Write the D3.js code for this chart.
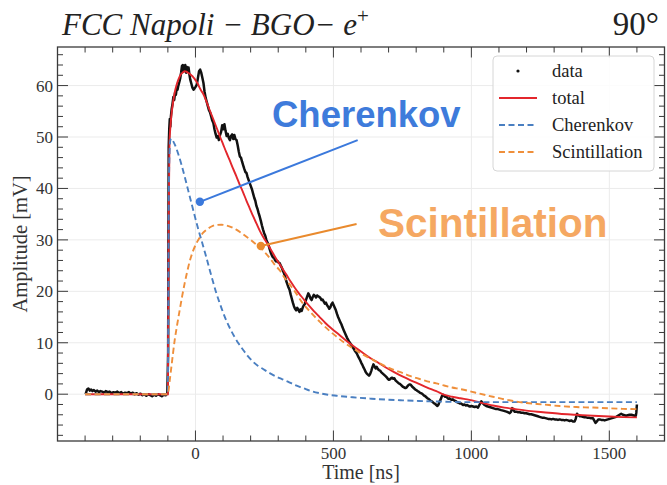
<!DOCTYPE html>
<html>
<head>
<meta charset="utf-8">
<script src="https://cdn.jsdelivr.net/npm/d3@7"></script>
<style>
  html, body { margin: 0; padding: 0; background: #fff; }
  svg { display: block; }
</style>
</head>
<body>
<svg id="chart" width="667" height="485"></svg>
<script>
// ---- Measured waveform (time in ns, amplitude in mV) ----
const dataTime = [
  -398,-393,-388,-383,-378,-373,-368,-362,-356,-350,-344,-338,-331,-325,-318,-311,-304,-297,-290,-283,
  -276,-269,-262,-255,-248,-241,-234,-227,-220,-213,-206,-199,-192,-185,-178,-171,-164,-157,-150,-143,
  -136,-129,-122,-115,-108,-102,-99,-98,-97,-95,-93,-91,-89,-86,-83,-80,-77,-74,-71,-68,-65,-62,-58,
  -55,-52,-49,-46,-43,-40,-37,-34,-31,-28,-25,-22,-19,-15,-11,-7,-3,1,5,9,13,17,21,25,29,33,37,41,45,
  49,53,57,61,65,69,73,77,81,85,89,93,97,101,105,109,113,117,121,125,129,133,137,141,145,149,153,157,
  161,165,169,173,177,181,185,189,193,197,201,205,209,213,217,221,225,229,233,237,241,245,249,253,257,
  261,265,269,273,277,281,285,289,293,297,301,305,309,313,317,321,325,329,333,337,341,345,349,353,357,
  361,365,369,373,377,381,385,389,393,397,401,405,409,413,417,421,425,429,433,437,441,445,449,453,457,
  461,465,469,473,477,481,485,489,493,497,501,505,509,513,517,521,525,529,533,537,541,545,549,553,557,
  561,565,569,573,577,581,585,589,593,597,601,605,609,613,617,621,625,629,633,637,641,645,649,653,657,
  661,665,669,673,677,681,685,689,693,697,701,705,709,713,717,721,725,729,733,737,741,745,749,753,757,
  761,765,769,773,777,781,785,789,793,797,801,805,809,813,817,821,825,829,833,837,841,845,849,853,857,
  861,865,869,873,877,881,885,889,893,897,901,905,909,913,917,921,925,929,933,937,941,945,949,953,957,
  961,965,970,975,980,985,990,995,1000,1006,1012,1018,1024,1030,1036,1042,1048,1054,1060,1066,1072,
  1078,1084,1090,1096,1102,1108,1115,1121,1127,1133,1139,1144,1148,1152,1157,1163,1169,1175,1181,1187,
  1193,1199,1205,1211,1217,1223,1229,1235,1241,1247,1253,1259,1265,1272,1278,1284,1290,1296,1302,1308,
  1314,1320,1326,1332,1338,1344,1350,1356,1362,1368,1374,1378,1383,1388,1393,1398,1404,1410,1416,1422,
  1428,1434,1441,1445,1450,1455,1460,1465,1471,1477,1483,1489,1495,1501,1507,1513,1519,1525,1531,1537,
  1543,1549,1555,1561,1567,1573,1580,1586,1592,1596,1598,1600
];
const dataAmp = [
  0.0,0.9,1.1,0.7,0.9,0.6,0.8,0.5,0.7,0.4,0.6,0.5,0.3,0.6,0.4,0.5,0.2,0.4,0.3,0.5,
  0.2,0.4,0.1,0.3,0.2,0.4,0.1,0.3,0.0,0.2,-0.1,0.1,-0.2,0.0,-0.3,0.0,-0.2,-0.4,-0.1,-0.3,
  0.0,-0.2,-0.4,-0.1,-0.2,0.1,8,30,48,51.5,53.5,52,54,55.5,56.5,57.8,57.2,58.6,58.2,59.5,59.2,60,60.8,
  61.5,62.5,63.8,64,62.8,63.5,64,62.5,63.6,62.8,63.5,62.2,61.2,60.4,59.6,59.2,59.5,59.8,60.2,61.5,62.8,63.1,62.5,61.5,60.5,58.8,57.6,56.8,56,
  55.2,54.8,54,53.2,52.7,51.5,50.6,49.9,50.2,49.4,50.4,51,52.3,51.5,52.5,51.2,50.2,50.6,49.8,49.4,50.2,50.5,49.6,50.4,49.6,49.4,48.4,47.2,
  46.2,46,45.2,44.5,43.8,43.2,43,42.2,41.6,41,40.4,39.8,39,38.2,37.6,36.6,36,35.2,34.5,33.7,32.8,32,31.3,30.8,30,
  29.5,29,28.2,27.5,27,26.6,26.5,26,25.8,25.9,25.6,25.5,25,24.6,24,23.5,22.8,22,21.4,20.8,20.3,19.4,18.6,17.8,17.1,
  16.6,16.3,16.8,16.4,16,16.5,16.2,16.9,17.3,17.6,18.4,19,19.6,19.2,18.6,18.3,18.9,19.3,19.1,18.8,19.2,19,18.9,18.7,18.3,
  18.4,18,17.6,17.8,17.3,17,16.6,16.9,17.5,17.8,17.3,16.8,16.3,15.6,15,14.5,14,13.6,13,12.5,12,11.5,11,10.6,10.2,
  9.9,9.6,9.2,8.9,8.5,8.2,7.9,7.4,7,6.6,6.1,5.7,5.2,4.8,4.3,4,3.8,3.6,3.9,4.5,5.2,5.8,5.4,5.0,5.3,
  4.9,4.7,4.6,4.3,4.1,3.9,3.7,3.5,3.3,3.0,2.8,2.9,3.1,3.2,3.0,3.1,2.7,2.5,2.3,2.1,2.0,1.8,1.6,1.4,1.3,
  1.2,1.3,1.6,1.8,1.9,1.8,1.5,1.3,1.1,0.9,0.8,0.6,0.5,0.3,0.2,0.1,-0.1,-0.3,-0.4,-0.6,-0.8,-0.9,-1.1,-1.3,-1.4,
  -1.6,-1.8,-1.9,-2.1,-2.3,-2.0,-1.4,-1.0,-0.4,-0.1,-0.3,-0.5,-0.4,-0.7,-0.9,-0.8,-1.0,-1.1,-1.0,-1.2,-1.3,-1.4,-1.6,-1.6,-1.8,
  -1.8,-1.9,-2.1,-2.0,-2.2,-2.1,-2.3,-2.4,-2.3,-2.4,-2.5,-2.4,-2.6,-2.0,-1.4,-1.8,-2.1,-2.3,-2.4,-2.5,-2.6,
  -2.7,-2.8,-2.9,-2.9,-3.0,-3.1,-3.2,-3.3,-3.4,-3.5,-3.7,-3.4,-2.7,-3.0,-3.4,-3.4,-3.5,-3.5,-3.6,-3.6,
  -3.7,-3.7,-3.8,-3.9,-3.9,-4.0,-4.1,-4.2,-4.3,-4.4,-4.5,-4.6,-4.6,-4.7,-4.8,-4.8,-4.9,-4.8,-4.9,-4.9,
  -5.0,-4.9,-5.0,-5.0,-5.1,-5.0,-5.1,-5.2,-5.1,-5.3,-5.3,-4.8,-3.8,-4.1,-4.3,-4.3,-4.4,-4.5,-4.5,-4.6,
  -4.6,-4.7,-4.7,-5.1,-5.6,-5.3,-4.9,-4.9,-5.0,-5.0,-5.1,-5.0,-4.9,-4.8,-4.7,-4.6,-4.5,-4.4,-4.2,-4.0,
  -3.8,-4.0,-4.1,-4.2,-4.1,-4.0,-4.0,-4.1,-4.2,-4.2,-3.5,-2.0
];

// ---- Fit: total ----
const totalTime = [-400,-100,-97,-94,-91,-86,-81,-75,-69,-63,-57,-51,-45,-39,-33,-27,-21,-15,-9,-3,3,9,15,21,27,33,42,51,63,76,88,100,112,124,136,148,160,173,185,197,209,221,233,245,257,269,281,293,305,318,330,345,360,375,390,410,430,450,470,490,511,540,571,600,632,660,690,720,752,780,810,840,873,900,930,960,993,1030,1078,1120,1160,1199,1260,1320,1380,1441,1500,1550,1600];
const totalAmp  = [0,0,35,49,51.8,54.8,56.8,58.7,60,61,61.8,62.3,62.6,62.8,62.7,62.5,62.3,62,61.7,61.3,60.8,60.3,59.6,59,58.5,57.8,56.6,55.3,53.7,51.9,50.2,48.6,47,45.5,43.9,42.4,40.8,39.2,37.6,36.1,34.6,33.2,31.8,30.6,29.6,28.5,27.4,26.3,25.3,24.2,23.2,21.9,20.7,19.6,18.6,17.3,16.1,15,13.9,12.9,12,10.7,9.4,8.3,7.1,6.2,5.2,4.3,3.4,2.7,2.0,1.3,0.6,-0.1,-0.5,-0.8,-1.1,-1.6,-2.2,-2.6,-2.9,-3.2,-3.5,-3.8,-4.0,-4.2,-4.35,-4.45,-4.5];

// ---- Fit: Cherenkov component ----
const cherTime = [-400,-100,-99,-97,-94,-91,-87,-80,-70,-60,-50,-40,-30,-20,-10,0,10,22,31,40,52,64,76,88,100,112,127,142,157,173,190,209,227,245,269,293,315,335,360,390,420,450,480,511,570,632,690,752,810,873,930,993,1100,1300,1600];
const cherAmp  = [0,0,10,35,47,49.4,49.7,49.1,47.9,46.3,44.5,42.5,40.4,38.3,36.2,34.1,32.1,29.9,28.2,26.5,24.1,21.8,19.6,17.7,15.9,14.3,12.6,11.1,9.8,8.6,7.4,6.3,5.5,4.9,4.1,3.4,2.9,2.45,1.8,1.2,0.6,0.2,-0.1,-0.3,-0.6,-0.85,-1.05,-1.2,-1.32,-1.42,-1.5,-1.55,-1.55,-1.55,-1.55];

// ---- Fit: scintillation component ----
const scintTime = [-400,-100,-99,-93,-87,-81,-75,-66,-57,-48,-39,-30,-21,-9,4,16,28,43,58,76,94,112,130,148,167,185,203,218,233,251,269,287,305,325,342,360,390,420,450,480,511,540,571,600,632,660,690,720,752,780,810,840,873,900,930,960,993,1030,1078,1120,1160,1199,1260,1320,1380,1441,1500,1550,1600];
const scintAmp  = [0,0,0.2,2.8,5.4,8.1,10.6,13.6,16.4,19.1,21.6,23.8,25.8,27.8,29.4,30.5,31.4,32.1,32.6,32.9,32.95,32.8,32.5,32,31.3,30.6,29.9,29.2,28.6,27.6,26.5,25.2,24.1,22.5,21.3,20,17.6,15.8,14.1,12.6,11.2,10,8.9,7.9,7,6.2,5.4,4.7,4.1,3.5,3.0,2.5,2.1,1.7,1.3,1.0,0.6,0.1,-0.5,-1.0,-1.4,-1.7,-2.0,-2.3,-2.5,-2.6,-2.75,-2.85,-2.9];

// ---- Axes ----
const xDomain = [-500, 1700];
const yDomain = [-9.1, 67.5];
const xMajorTicks = [0, 500, 1000, 1500];
const yMajorTicks = [0, 10, 20, 30, 40, 50, 60];

// ---- Labels ----
const titleText = "FCC Napoli \u2212 BGO\u2212 e";
const angleText = "90\u00B0";
const xLabel = "Time [ns]";
const yLabel = "Amplitude [mV]";
const legendLabels = ["data", "total", "Cherenkov", "Scintillation"];

// Callouts anchored in data coordinates: [dot point, line end]
const cherCallout  = { text: "Cherenkov",     dot: [16, 37.4],  end: [588, 49.4] };
const scintCallout = { text: "Scintillation", dot: [237, 28.8], end: [584, 33.1] };

const colors = {
  data: "#111111",
  total: "#e3262c",
  cher: "#4a7fc1",
  scint: "#ef8f3b",
  cherText: "#3e7bdb",
  scintText: "#f5a862",
  cherLine: "#3b79dc",
  scintLine: "#e98a2d"
};

const svg = d3.select("#chart");
const plot = { left: 57.5, right: 664.5, top: 47, bottom: 441 };

const x = d3.scaleLinear().domain(xDomain).range([plot.left, plot.right]);
const y = d3.scaleLinear().domain(yDomain).range([plot.bottom, plot.top]);

// grid
const grid = svg.append("g");
grid.selectAll("line.gx").data(xMajorTicks).join("line")
  .attr("x1", d => x(d)).attr("x2", d => x(d))
  .attr("y1", plot.top).attr("y2", plot.bottom)
  .attr("stroke", "#ebebeb").attr("stroke-width", 1);
grid.selectAll("line.gy").data(yMajorTicks).join("line")
  .attr("x1", plot.left).attr("x2", plot.right)
  .attr("y1", d => y(d)).attr("y2", d => y(d))
  .attr("stroke", "#ebebeb").attr("stroke-width", 1);

// clip for curves
svg.append("clipPath").attr("id", "clip").append("rect")
  .attr("x", plot.left).attr("y", plot.top)
  .attr("width", plot.right - plot.left).attr("height", plot.bottom - plot.top);

const curves = svg.append("g").attr("clip-path", "url(#clip)");
const line = d3.line().x(d => x(d[0])).y(d => y(d[1]));
const smooth = d3.line().x(d => x(d[0])).y(d => y(d[1])).curve(d3.curveMonotoneX);

const zip = (a, b) => a.map((v, i) => [v, b[i]]);

curves.append("path").datum(zip(dataTime, dataAmp))
  .attr("d", line).attr("fill", "none")
  .attr("stroke", colors.data).attr("stroke-width", 2.5).attr("stroke-linejoin", "round");

curves.append("path").datum(zip(totalTime, totalAmp))
  .attr("d", smooth).attr("fill", "none")
  .attr("stroke", colors.total).attr("stroke-width", 1.9);

curves.append("path").datum(zip(cherTime, cherAmp))
  .attr("d", smooth).attr("fill", "none")
  .attr("stroke", colors.cher).attr("stroke-width", 1.9).attr("stroke-dasharray", "6,3.5");

curves.append("path").datum(zip(scintTime, scintAmp))
  .attr("d", smooth).attr("fill", "none")
  .attr("stroke", colors.scint).attr("stroke-width", 1.9).attr("stroke-dasharray", "6,3.5");

// frame and inward ticks on all four sides
const axisColor = "#3a3a3a";
const majorLen = 10.5, minorLen = 5.5;
const xMinor = d3.range(-500, 1701, 100).filter(v => !xMajorTicks.includes(v));
const yMinor = d3.range(-8, 67, 2).filter(v => !yMajorTicks.includes(v));

const ticks = svg.append("g").attr("stroke", axisColor).attr("stroke-width", 1);
function xTicks(vals, len) {
  vals.forEach(v => {
    ticks.append("line").attr("x1", x(v)).attr("x2", x(v)).attr("y1", plot.bottom).attr("y2", plot.bottom - len);
    ticks.append("line").attr("x1", x(v)).attr("x2", x(v)).attr("y1", plot.top).attr("y2", plot.top + len);
  });
}
function yTicks(vals, len) {
  vals.forEach(v => {
    ticks.append("line").attr("y1", y(v)).attr("y2", y(v)).attr("x1", plot.left).attr("x2", plot.left + len);
    ticks.append("line").attr("y1", y(v)).attr("y2", y(v)).attr("x1", plot.right).attr("x2", plot.right - len);
  });
}
xTicks(xMajorTicks, majorLen); xTicks(xMinor, minorLen);
yTicks(yMajorTicks, majorLen); yTicks(yMinor, minorLen);

svg.append("rect")
  .attr("x", plot.left).attr("y", plot.top)
  .attr("width", plot.right - plot.left).attr("height", plot.bottom - plot.top)
  .attr("fill", "none").attr("stroke", axisColor).attr("stroke-width", 1.3);

// tick labels
const labelFont = "Liberation Serif, DejaVu Serif, serif";
svg.append("g").selectAll("text").data(xMajorTicks).join("text")
  .attr("x", d => x(d)).attr("y", 458.5)
  .attr("text-anchor", "middle")
  .attr("font-family", labelFont).attr("font-size", 17).attr("fill", "#333")
  .text(d => d);
svg.append("g").selectAll("text").data(yMajorTicks).join("text")
  .attr("x", 53).attr("y", d => y(d) + 6)
  .attr("text-anchor", "end")
  .attr("font-family", labelFont).attr("font-size", 17).attr("fill", "#333")
  .text(d => d);

// axis titles
svg.append("text")
  .attr("x", (plot.left + plot.right) / 2).attr("y", 479)
  .attr("text-anchor", "middle")
  .attr("font-family", labelFont).attr("font-size", 20).attr("fill", "#333")
  .text(xLabel);
svg.append("text")
  .attr("transform", `translate(27,${(plot.top + plot.bottom) / 2}) rotate(-90)`)
  .attr("text-anchor", "middle")
  .attr("font-family", labelFont).attr("font-size", 20.5).attr("fill", "#333")
  .text(yLabel);

// title
const title = svg.append("text")
  .attr("x", 62).attr("y", 35)
  .attr("font-family", labelFont).attr("font-style", "italic")
  .attr("font-size", 31).attr("fill", "#222")
  .text(titleText);
title.append("tspan").attr("dy", -12).attr("font-size", 21).attr("font-style", "normal").text("+");

svg.append("text")
  .attr("x", 659).attr("y", 35)
  .attr("text-anchor", "end")
  .attr("font-family", labelFont).attr("font-size", 33).attr("fill", "#222")
  .text(angleText);

// callouts
const sans = "Liberation Sans, Arial, sans-serif";
function callout(c, lineColor, textColor, tx, ty, size) {
  svg.append("line")
    .attr("x1", x(c.dot[0])).attr("y1", y(c.dot[1]))
    .attr("x2", x(c.end[0])).attr("y2", y(c.end[1]))
    .attr("stroke", lineColor).attr("stroke-width", 2);
  svg.append("circle")
    .attr("cx", x(c.dot[0])).attr("cy", y(c.dot[1])).attr("r", 4.2)
    .attr("fill", lineColor);
  svg.append("text")
    .attr("x", tx).attr("y", ty)
    .attr("font-family", sans).attr("font-weight", "bold")
    .attr("font-size", size).attr("fill", textColor)
    .text(c.text);
}
callout(cherCallout, colors.cherLine, colors.cherText, 272, 127, 36.5);
callout(scintCallout, colors.scintLine, colors.scintText, 378, 237, 40.5);

// legend
const lg = svg.append("g");
lg.append("rect")
  .attr("x", 493).attr("y", 56).attr("width", 161).attr("height", 115)
  .attr("rx", 4).attr("fill", "#fff").attr("fill-opacity", 0.85)
  .attr("stroke", "#d6d6d6").attr("stroke-width", 1);
const rowY = [71, 98, 125, 152];
lg.append("circle").attr("cx", 518).attr("cy", rowY[0]).attr("r", 1.6).attr("fill", colors.data);
lg.append("line").attr("x1", 499).attr("x2", 537).attr("y1", rowY[1]).attr("y2", rowY[1])
  .attr("stroke", colors.total).attr("stroke-width", 1.9);
lg.append("line").attr("x1", 499).attr("x2", 537).attr("y1", rowY[2]).attr("y2", rowY[2])
  .attr("stroke", colors.cher).attr("stroke-width", 1.9).attr("stroke-dasharray", "6,3.5");
lg.append("line").attr("x1", 499).attr("x2", 537).attr("y1", rowY[3]).attr("y2", rowY[3])
  .attr("stroke", colors.scint).attr("stroke-width", 1.9).attr("stroke-dasharray", "6,3.5");
lg.selectAll("text.l").data(legendLabels).join("text")
  .attr("x", 552).attr("y", (d, i) => rowY[i] + 6)
  .attr("font-family", labelFont).attr("font-size", 18.5).attr("fill", "#222")
  .text(d => d);
</script>
</body>
</html>
